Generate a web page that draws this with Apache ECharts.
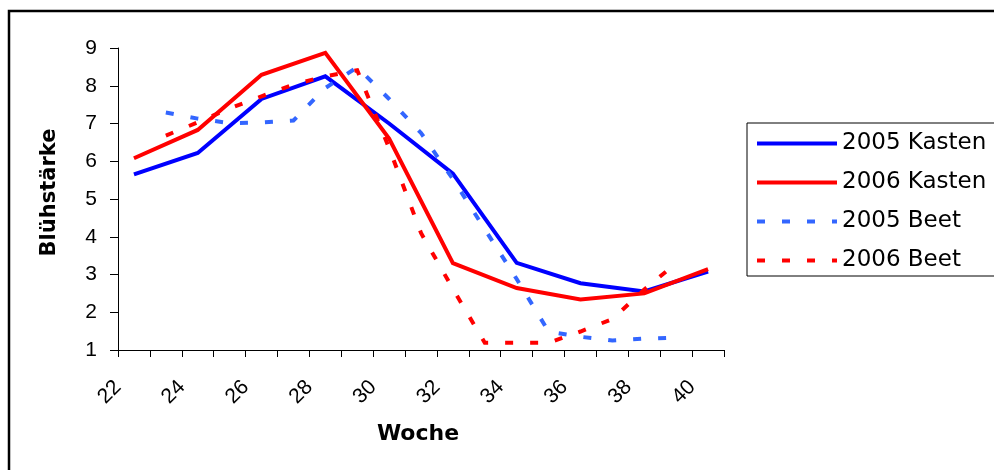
<!DOCTYPE html>
<html><head><meta charset="utf-8">
<script src="https://cdn.jsdelivr.net/npm/echarts@6/dist/echarts.min.js"></script>
<style>html,body{margin:0;padding:0;background:#fff}#c{width:994px;height:470px}</style>
</head><body><div id="c"></div>
<script>
// Weeks (categories) and tick labels
const weeks = ['22','23','24','25','26','27','28','29','30','31','32','33','34','35','36','37','38','39','40'];
const tickLabels = ['22','24','26','28','30','32','34','36','38','40'];
const yTicks = [1, 2, 3, 4, 5, 6, 7, 8, 9];
const seriesNames = ['2005 Kasten', '2006 Kasten', '2005 Beet', '2006 Beet'];
// Series values (null = no measurement that week)
const kasten2005 = [5.65, null, 6.22, null, 7.65, null, 8.25, null, 7.0, null, 5.67, null, 3.31, null, 2.77, null, 2.55, null, 3.08];
const kasten2006 = [6.08, null, 6.83, null, 8.29, null, 8.87, null, 6.6, null, 3.30, null, 2.64, null, 2.34, null, 2.50, null, 3.14];
const beet2005 = [null, 7.29, 7.13, 7.01, 7.03, 7.08, 7.94, 8.49, 7.65, 6.75, 5.53, 4.2, 2.88, 1.49, 1.35, 1.25, 1.30, 1.33, null];
const beet2006 = [null, 6.68, 7.03, 7.4, 7.72, 8.03, 8.25, 8.41, 6.35, 4.1, 2.62, 1.19, 1.19, 1.19, 1.49, 1.82, 2.6, 3.3, null];

// Boundary labels: one per tick between categories (19 categories -> 20 boundaries)
const boundaryLabels = weeks.map(w => tickLabels.indexOf(w) >= 0 ? w : '').concat(['']);

const chart = echarts.init(document.getElementById('c'), null, {renderer: 'canvas'});
const axisFont = "'Liberation Sans', Arial, sans-serif";
const mk = (name, data, color, dashed) => ({
  name, type: 'line', data, connectNulls: true, symbol: 'none', showSymbol: false,
  xAxisIndex: 0, yAxisIndex: 0,
  lineStyle: {color, width: 4, type: dashed ? [8, 17] : 'solid', cap: 'butt', join: 'miter'},
  itemStyle: {color}, emphasis: {disabled: true}
});
chart.setOption({
  animation: false,
  backgroundColor: '#fff',
  grid: {left: 118, top: 48, right: 270, bottom: 120, containLabel: false, outerBoundsMode: 'none'},
  graphic: [{
    type: 'rect', silent: true, z: -1,
    shape: {x: 9, y: 11, width: 1000, height: 1000},
    style: {fill: 'none', stroke: '#000', lineWidth: 2.5}
  }],
  legend: {
    orient: 'vertical', left: 747, top: 123, padding: [9, 24, 4, 8],
    itemWidth: 80, itemHeight: 14, itemGap: 16,
    borderColor: '#000', borderWidth: 1, backgroundColor: '#fff',
    itemStyle: {opacity: 0, borderWidth: 0},
    lineStyle: {width: 4},
    textStyle: {fontSize: 23, fontFamily: 'DejaVu Sans', color: '#000'},
    data: seriesNames, selectedMode: false
  },
  xAxis: [{
    type: 'category', data: weeks, boundaryGap: true, position: 'bottom',
    name: 'Woche', nameLocation: 'middle', nameGap: 84,
    nameTextStyle: {fontSize: 22, fontWeight: 'bold', fontFamily: 'DejaVu Sans', color: '#000', verticalAlign: 'middle', padding: [0, 6, 0, 0]},
    axisLine: {lineStyle: {color: '#000', width: 1}},
    axisTick: {show: true, interval: 0, length: 7, lineStyle: {color: '#000'}},
    axisLabel: {show: false},
    splitLine: {show: false}
  }, {
    type: 'category', data: boundaryLabels, boundaryGap: false, position: 'bottom',
    axisLine: {show: false}, axisTick: {show: false}, splitLine: {show: false},
    axisLabel: {show: true, interval: 0, rotate: 45, margin: 34, fontSize: 21, fontFamily: axisFont, color: '#000'}
  }],
  yAxis: {
    type: 'value', min: yTicks[0], max: yTicks[yTicks.length - 1], interval: 1,
    name: 'Blühstärke', nameLocation: 'middle', nameGap: 68, nameRotate: 90,
    nameTextStyle: {fontSize: 21, fontWeight: 'bold', fontFamily: 'DejaVu Sans', color: '#000', verticalAlign: 'middle', align: 'center', padding: [0, 0, 0, 13]},
    axisLine: {show: true, lineStyle: {color: '#000', width: 1}},
    axisTick: {show: true, length: 8, lineStyle: {color: '#000'}},
    axisLabel: {margin: 21, fontSize: 21, fontFamily: axisFont, color: '#000'},
    splitLine: {show: false}
  },
  series: [
    mk(seriesNames[0], kasten2005, '#0000FF', false),
    mk(seriesNames[1], kasten2006, '#FF0000', false),
    mk(seriesNames[2], beet2005, '#3366FF', true),
    mk(seriesNames[3], beet2006, '#FF0000', true)
  ]
});
</script></body></html>
